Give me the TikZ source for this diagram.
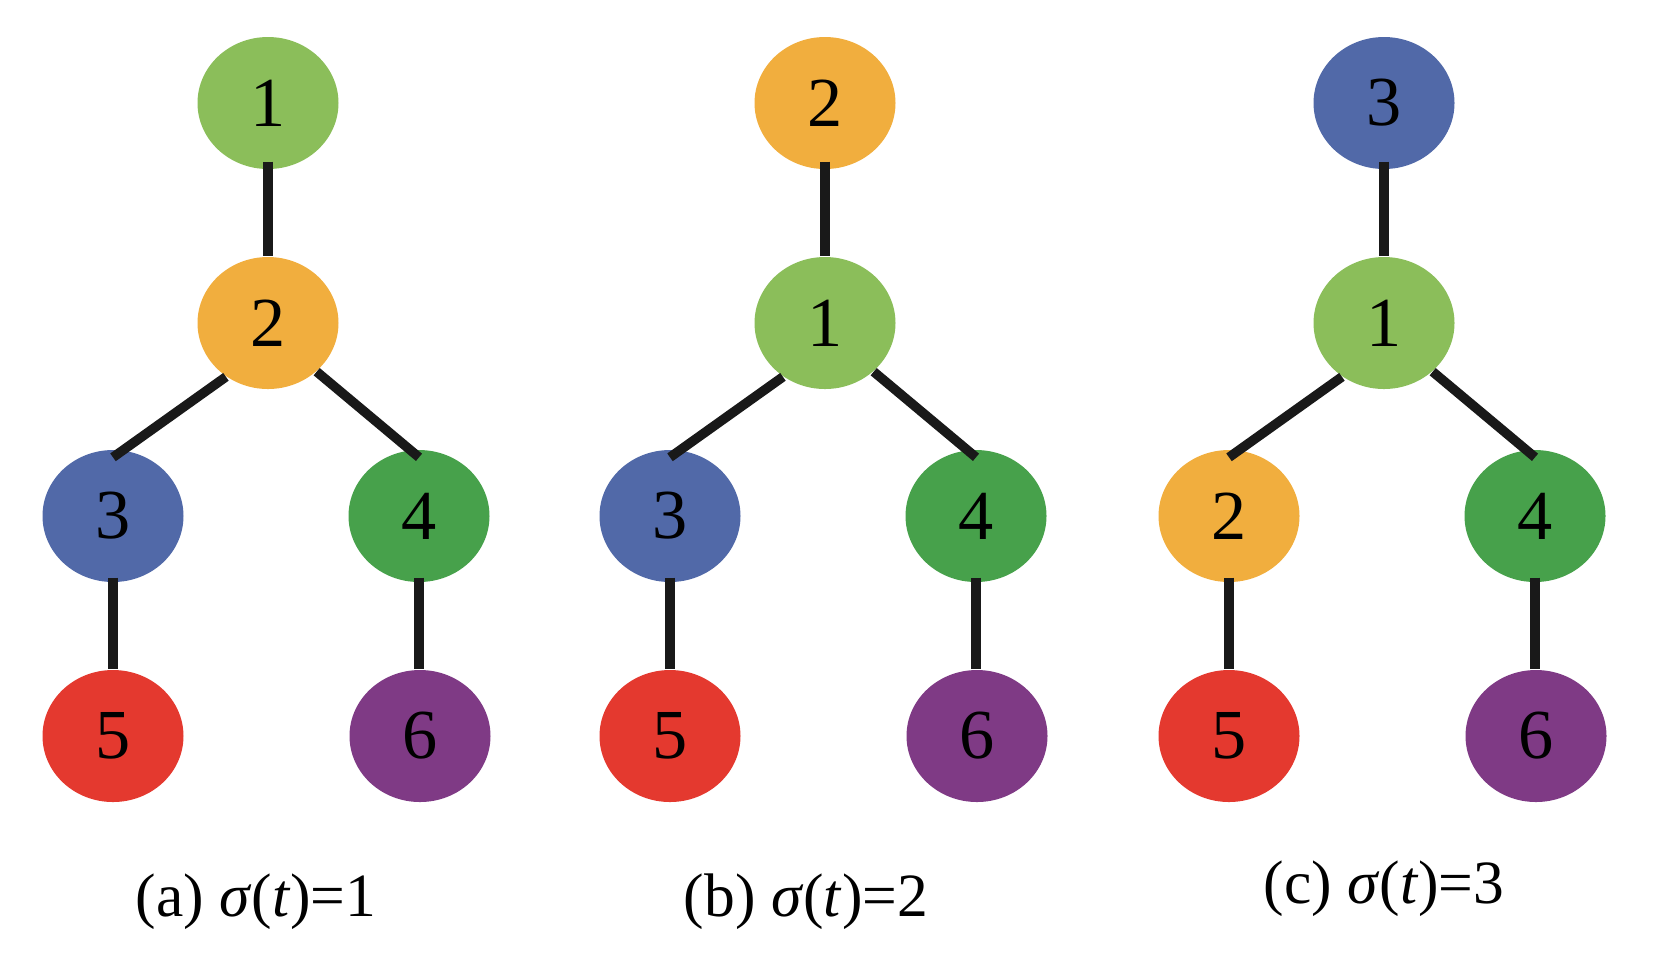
\documentclass[tikz,border=0pt]{standalone}
\usepackage{fontspec}
\setmainfont{Liberation Serif}
\usetikzlibrary{shapes.geometric}
\definecolor{col1}{HTML}{8BBE5A}
\definecolor{col2}{HTML}{F1AE3E}
\definecolor{col3}{HTML}{5169A8}
\definecolor{col4}{HTML}{47A14B}
\definecolor{col5}{HTML}{E4392F}
\definecolor{col6}{HTML}{7F3A85}
\tikzset{
  vtx/.style={ellipse, minimum width=1.41cm, minimum height=1.32cm, inner sep=0pt, font=\fontsize{20}{20}\selectfont},
  link/.style={line width=2.7pt, black!90},
  caption/.style={font=\fontsize{17.5}{17.5}\selectfont}
}

\begin{document}
\begin{tikzpicture}
          \useasboundingbox (0,0) rectangle (16.54,-9.63);
          % one tree per panel: name/shift/top/middle/left child/label value/label position
          \foreach \p/\dx/\t/\m/\l/\lab/\lx/\ly in {a/0/1/2/3/1/2.56/-9.02, b/5.57/2/1/3/2/2.49/-9.02, c/11.16/3/1/2/3/2.68/-8.89}{
            \begin{scope}[xshift=\dx cm]
              \node[vtx, fill=col\t] (\p top) at (2.68,-1.03) {\t};
              \node[vtx, fill=col\m] (\p mid) at (2.68,-3.23) {\m};
              \node[vtx, fill=col\l] (\p left) at (1.13,-5.16) {\l};
              \node[vtx, fill=col4] (\p right) at (4.19,-5.16) {4};
              \node[vtx, fill=col5] (\p lowleft) at (1.13,-7.36) {5};
              \node[vtx, fill=col6] (\p lowright) at (4.20,-7.36) {6};
              \draw[link] ([yshift=0.08cm]\p top.south) -- (\p mid.north);
              \draw[link] (\p mid.232) -- ([yshift=-0.08cm]\p left.north);
              \draw[link] (\p mid.315) -- ([yshift=-0.08cm]\p right.north);
              \draw[link] ([yshift=0.05cm]\p left.south) -- (\p lowleft.north);
              \draw[link] ([yshift=0.05cm]\p right.south) -- (\p right.south |- \p lowright.north);
              \node[caption] (\p cap) at (\lx,\ly) {(\p) \textit{σ}(\textit{t})=\lab};
            \end{scope}
          }
        \end{tikzpicture}
\end{document}
